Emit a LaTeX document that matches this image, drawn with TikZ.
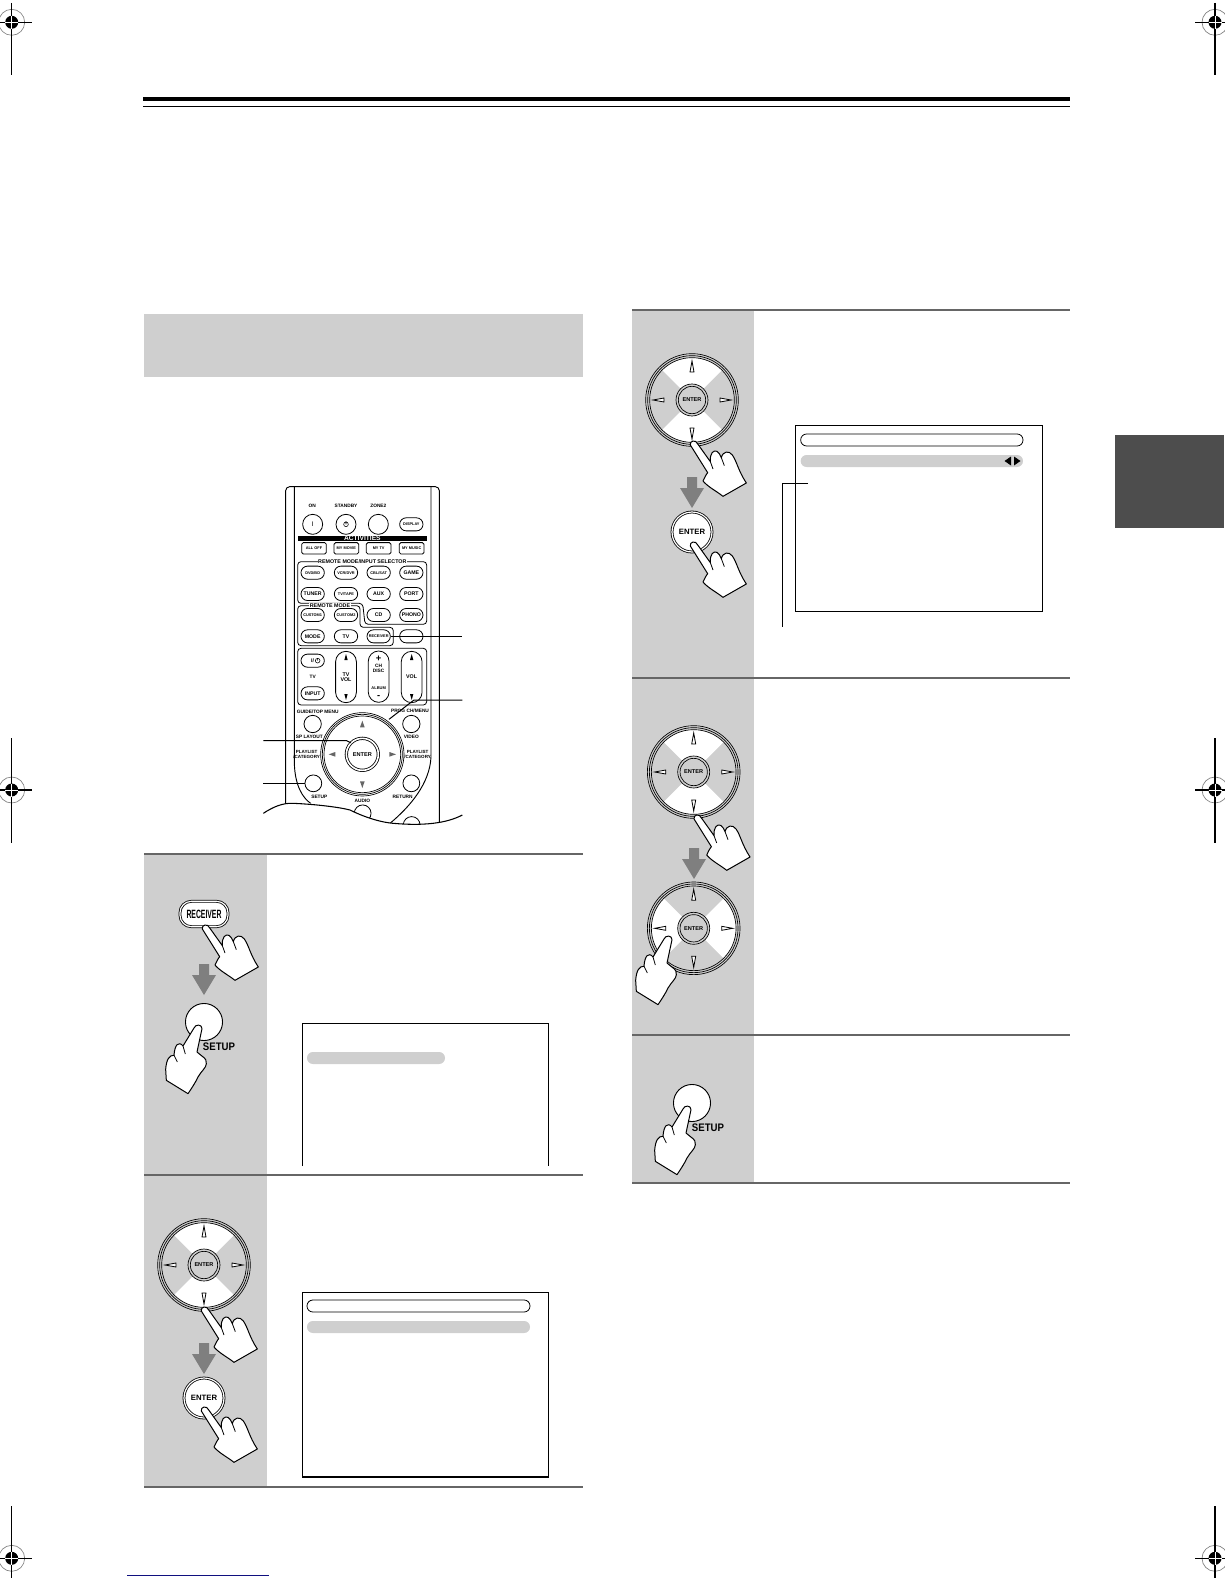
\documentclass[tikz,border=0pt]{standalone}
\usepackage{xcolor}
\usepackage{fontspec}
\setmainfont{Liberation Sans}
\definecolor{panelgray}{HTML}{CFCFCF}
\definecolor{rulegray}{HTML}{666666}
\definecolor{tabgray}{HTML}{4D4D4D}
\definecolor{arrowgray}{HTML}{7F7F7F}
\definecolor{linknavy}{HTML}{10107F}
\newcommand{\CropMark}[4]{%
  \draw[gray,line width=0.5pt] (#1,#2) circle (13);
  \draw[line width=0.9pt] (#1-20,#2) -- (#1+20,#2) (#1,#3) -- (#1,#4);
  \fill (#1,#2) circle (6.5);
  \draw[white,line width=0.7pt] (#1-6.5,#2) -- (#1+6.5,#2) (#1,#2-6.5) -- (#1,#2+6.5);
}
\tikzset{
  pics/hand/.style={code={
    \begin{scope}[xscale=1/3,yscale=-1/3]
    \draw[fill=white,line width=0.75pt,line join=round]
      (-8,12) .. controls (-11,0) and (8,-7) .. (15,10) -- (52,62)
      .. controls (50,36) and (62,26) .. (72,31) .. controls (78,35) and (82,42) .. (85,50)
      .. controls (90,30) and (108,28) .. (118,42) .. controls (132,62) and (135,88) .. (160,126)
      -- (90,166) .. controls (70,150) and (45,138) .. (30,120)
      .. controls (34,110) and (40,100) .. (44,95) -- cycle;
    \draw[line width=0.6pt] (52,62) -- (60,84) (85,50) -- (94,74);
    \end{scope}
  }},
  pics/handleft/.style={code={
    \begin{scope}[xscale=1/3,yscale=-1/3]
    \draw[fill=white,line width=0.75pt,line join=round]
      (12,8) .. controls (12,-6) and (-8,-6) .. (-12,6) -- (-45,60)
      .. controls (-58,44) and (-70,56) .. (-72,88)
      .. controls (-85,86) and (-95,100) .. (-97,130) -- (-95,163)
      -- (-30,203) .. controls (-18,185) and (-8,170) .. (0,153)
      .. controls (10,135) and (25,125) .. (25,113) .. controls (26,103) and (22,98) .. (18,95)
      .. controls (12,90) and (5,85) .. (-3,78) -- cycle;
    \draw[line width=0.6pt] (-45,60) -- (-38,84) (-72,88) -- (-62,108);
    \end{scope}
  }},
  pics/wheel/.style={code={
    \begin{scope}[xscale=1/3,yscale=-1/3]
    \begin{scope}
    \clip (0,0) circle (127);
    \fill[white] (0,0) -- (-130,-130) -- (130,-130) -- cycle;
    \fill[white] (0,0) -- (-130,130) -- (130,130) -- cycle;
    \end{scope}
    \draw[line width=0.5pt] (0,0) circle (127) (0,0) circle (133) (0,0) circle (139);
    \draw[fill=panelgray,line width=0.5pt] (0,0) circle (48);
    \draw[line width=0.5pt] (0,0) circle (41);
    \foreach \a in {0,90,180,270}
      \draw[fill=white,line width=0.6pt,rotate=\a] (0,-117) -- (6,-84) -- (-6,-84) -- cycle;
    \end{scope}
  }},
  pics/downarrow/.style={code={
    \fill[arrowgray,yscale=-1] (-5,0) -- (5,0) -- (5,11) -- (12,11) -- (0,31) -- (-12,11) -- (-5,11) -- cycle;
  }},
  panel/.style={fill=panelgray,draw=none},
  steprule/.style={rulegray,line width=1.6pt},
  screenline/.style={line width=0.7pt},
  leader/.style={line width=0.75pt},
  wheeltext/.style={font=\fontsize{4.2}{4.2}\selectfont\bfseries,inner sep=0},
  remotelabel/.style={font=\fontsize{4}{4.2}\selectfont\bfseries,inner sep=0.4pt,align=center},
  remotepill/.style={draw,fill=white,line width=0.6pt,rounded corners=4.9pt,minimum width=17.5pt,minimum height=9.8pt,inner sep=0},
  pillbig/.style={font=\fontsize{3.9}{3.9}\selectfont\bfseries},
  pillsmall/.style={font=\fontsize{2.9}{2.9}\selectfont\bfseries},
  remotekey/.style={draw,fill=white,line width=0.6pt,rounded corners=1.2pt,minimum width=18.5pt,minimum height=8.6pt,inner sep=0,font=\fontsize{2.9}{2.9}\selectfont\bfseries},
  remoteoval/.style={draw,fill=white,line width=0.6pt,rounded corners=7.8pt,minimum width=15.6pt,minimum height=38.5pt,inner sep=0},
  remotedot/.style={draw,fill=white,line width=0.6pt,circle,inner sep=0},
}

\begin{document}
\begin{tikzpicture}[x=0.75pt,y=0.75pt,yscale=-1,xscale=1]
\useasboundingbox (0,0) rectangle (1224,1584);

%Crop marks
\CropMark{11.7}{22.3}{3}{75}
\CropMark{1215}{22.3}{3}{75}
\CropMark{11.7}{790}{738}{843}
\CropMark{1215}{790}{738}{843}
\CropMark{11.7}{1558.3}{1506}{1578}
\CropMark{1215}{1558.3}{1506}{1578}

%Page head
\draw[line width=2.6pt] (143,99) -- (1070,99);
\draw[line width=0.7pt] (143,106) -- (1070,106);
\draw[linknavy,line width=0.7pt] (127,1575) -- (269,1575);
\fill[tabgray] (1115,435) rectangle (1224,528);

%Gray panels
\fill[panel] (144,314) rectangle (583,377);
\fill[panel] (144,854) rectangle (267,1175);
\fill[panel] (144,1175) rectangle (267,1487);
\fill[panel] (632,310) rectangle (754,678);
\fill[panel] (632,678) rectangle (754,1035);
\fill[panel] (632,1035) rectangle (754,1183);
\draw[steprule] (144,854) -- (583,854);
\draw[steprule] (144,1175) -- (583,1175);
\draw[steprule] (144,1487) -- (583,1487);
\draw[steprule] (632,310) -- (1070,310);
\draw[steprule] (632,678) -- (1070,678);
\draw[steprule] (632,1035) -- (1070,1035);
\draw[steprule] (632,1183) -- (1070,1183);

%Remote control
\begin{scope}[shift={(250,470)},scale=1/3]
\draw[line width=0.7pt,rounded corners=3pt] (107,1100) -- (107,50) -- (568,50) -- (568,1100);
\draw[line width=0.7pt] (133,50) -- (133,880) .. controls (135,950) and (160,985) .. (182,1000);
\draw[line width=0.7pt] (543,50) -- (543,860) .. controls (540,940) and (480,1010) .. (420,1060);

\foreach \px/\py/\ptext in {187/108/ON,288/108/STANDBY,385/108/ZONE2,188/622/TV,203/725/{GUIDE/TOP MENU},178/802/SP LAYOUT,484/802/VIDEO,480/723/{PROG CH/MENU},208/981/SETUP,458/981/RETURN,337/993/AUDIO}
  \node[remotelabel,font=\fontsize{3.6}{3.6}\selectfont\bfseries] (label\px\py) at (\px,\py) {\ptext};
\node[remotelabel,font=\fontsize{3.4}{3.8}\selectfont\bfseries] (playleft) at (170,854) {PLAYLIST\\/CATEGORY};
\node[remotelabel,font=\fontsize{3.4}{3.8}\selectfont\bfseries] (playright) at (503,854) {PLAYLIST\\/CATEGORY};

\node[remotedot,minimum size=15pt] (onbtn) at (188,163) {\fontsize{5}{5}\selectfont I};
\node[remotedot,minimum size=15pt] (standbybtn) at (288,163) {};
\draw[line width=0.4pt] (288,163) circle (7) (288,153) -- (288,163);
\node[remotedot,minimum size=15pt] (zonebtn) at (385,163) {};
\node[remotepill,pillsmall] (displaybtn) at (484,163) {DISPLAY};

\fill (143,197) rectangle (530,212);
\node[text=white,font=\fontsize{5}{5}\selectfont\bfseries,inner sep=0] (activities) at (337,204) {ACTIVITIES};
\foreach \px/\ptext in {192/ALL OFF,289/MY MOVIE,386/MY TV,485/MY MUSIC}
  \node[remotekey] (key\px) at (\px,235) {\ptext};

%Frames
\draw[line width=0.6pt,rounded corners=2.5pt] (143,400) -- (143,275) -- (530,275) -- (530,463) -- (345,463) -- (338,400) -- cycle;
\draw[line width=0.6pt,rounded corners=2.5pt] (143,407) -- (330,407) -- (330,472) -- (430,472) -- (430,527) -- (143,527) -- cycle;
\draw[line width=0.6pt,rounded corners=2.5pt] (143,705) -- (143,535) -- (530,535) -- (530,705) -- cycle;
\node[remotelabel,fill=white] (selector) at (337,275) {REMOTE MODE/INPUT SELECTOR};
\node[remotelabel,fill=white] (remotemode) at (240,407) {REMOTE MODE};

\foreach \px/\py/\ptext/\pfont in {188/308/{DVD/BD}/pillsmall,288/308/{VCR/DVR}/pillsmall,386/308/{CBL/SAT}/pillsmall,484/308/GAME/pillbig,
    188/372/TUNER/pillbig,288/372/{TV/TAPE}/pillsmall,386/372/AUX/pillbig,484/372/PORT/pillbig,
    188/435/CUSTOM1/pillsmall,288/435/CUSTOM2/pillsmall,386/435/CD/pillbig,484/435/PHONO/pillbig,
    188/499/MODE/pillbig,288/499/TV/pillbig,484/499/{}/pillbig,
    188/572/{I/\hspace{4pt}}/pillbig,188/670/INPUT/pillbig}
  \node[remotepill,\pfont] (btn\px\py) at (\px,\py) {\ptext};
\node[remotepill,pillsmall] (receiverbtn) at (386,499) {RECEIVER};
\draw[line width=0.4pt] (203,572) circle (7) (203,564) -- (203,572);

\node[remoteoval] (tvvol) at (288,621) {};
\node[remoteoval] (chdisc) at (386,620) {};
\node[remoteoval] (volbtn) at (485,621) {};
\foreach \px in {288,485} {
  \fill (\px,552) -- (\px+5,570) -- (\px-5,570) -- cycle;
  \fill (\px,690) -- (\px+5,672) -- (\px-5,672) -- cycle;
}
\node[remotelabel] (tvvoltext) at (288,621) {TV\\VOL};
\node[remotelabel] (voltext) at (485,621) {VOL};
\node[remotelabel,font=\fontsize{7}{7}\selectfont\bfseries] (chplus) at (386,565) {+};
\node[remotelabel,font=\fontsize{3.6}{4}\selectfont\bfseries] (chtext) at (386,595) {CH\\DISC};
\node[remotelabel,font=\fontsize{3}{3}\selectfont\bfseries] (albumtext) at (386,655) {ALBUM};
\node[remotelabel,font=\fontsize{7}{7}\selectfont\bfseries] (chminus) at (386,680) {-};

\node[remotedot,minimum size=13pt] (guidebtn) at (188,762) {};
\node[remotedot,minimum size=13pt] (progbtn) at (484,762) {};
\node[remotedot,minimum size=12.6pt] (setupbtn) at (190,940) {};
\node[remotedot,minimum size=12.6pt] (returnbtn) at (484,940) {};
\node[remotedot,minimum size=12.6pt] (audiobtn) at (338,1030) {};
\node[remotedot,minimum size=12.6pt] (lowbtn) at (485,1065) {};

\draw[fill=white,line width=0.5pt] (337,853) circle (125);
\draw[line width=0.5pt] (337,853) circle (120) (337,853) circle (115);
\node[remotedot,minimum size=24pt,double,double distance=1.2pt,font=\fontsize{4.2}{4.2}\selectfont\bfseries] (enterbtn) at (337,853) {ENTER};
\foreach \a in {0,90,180,270}
  \fill[rulegray,rotate around={\a:(337,853)}] (337,752) -- (344,772) -- (330,772) -- cycle;

%Cut edge
\fill[white] (40,1030) .. controls (70,1010) and (100,998) .. (130,1000) .. controls (200,1003) and (270,1012) .. (300,1020) .. controls (350,1045) and (400,1058) .. (430,1060) .. controls (520,1068) and (590,1060) .. (637,1035) -- (637,1110) -- (40,1110) -- cycle;
\draw[line width=0.8pt] (40,1030) .. controls (70,1010) and (100,998) .. (130,1000) .. controls (200,1003) and (270,1012) .. (300,1020) .. controls (350,1045) and (400,1058) .. (430,1060) .. controls (520,1068) and (590,1060) .. (637,1035);

%Leaders
\coordinate (leadreceiver) at (637,499);
\coordinate (leadwheel) at (637,690);
\coordinate (leadwheelbend) at (492,690);
\coordinate (leadwheelend) at (417,748);
\coordinate (leadenter) at (40,812);
\coordinate (leadenterbend) at (290,812);
\coordinate (leadsetup) at (40,940);
\draw[leader] (receiverbtn.east) -- (leadreceiver);
\draw[leader] (leadwheel) -- (leadwheelbend) -- (leadwheelend);
\draw[leader] (leadenter) -- (leadenterbend) -- (enterbtn.north west);
\draw[leader] (leadsetup) -- (setupbtn.west);
\end{scope}

%Step 1
\node[draw,fill=white,line width=0.6pt,double,double distance=0.9pt,rounded corners=8.5pt,minimum width=36pt,minimum height=19pt,inner sep=0] (receiverbig) at (204,914) {\fontsize{9}{9}\selectfont\bfseries\scalebox{.57}[1]{RECEIVER}};
\pic at (205,925) {hand};
\pic at (204,964) {downarrow};
\node[draw,fill=white,circle,line width=0.7pt,minimum size=27.8pt,inner sep=0] (setupone) at (204,1022) {};
\node[inner sep=0,font=\fontsize{8.2}{8.2}\selectfont\bfseries] (setuponetext) at (219,1047) {\scalebox{.88}[1]{SETUP}};
\pic at (198,1026) {handleft};
\draw[screenline] (302,1166) -- (302,1023) -- (548,1023) -- (548,1166);
\fill[panelgray,rounded corners=4.4pt] (307,1052) rectangle (445,1064);

%Step 2
\pic at (204,1265) {wheel};
\node[wheeltext] (wheeltwo) at (204,1265) {ENTER};
\pic at (204,1307) {hand};
\pic at (204,1343) {downarrow};
\node[draw,fill=white,circle,line width=0.6pt,double,double distance=0.9pt,minimum size=30pt,inner sep=0,font=\fontsize{5.8}{5.8}\selectfont\bfseries] (entertwo) at (204,1398) {ENTER};
\pic at (204,1407) {hand};
\draw[screenline] (302,1292) rectangle (548,1477);
\draw[line width=1.1pt] (302,1477) -- (548,1477);
\draw[line width=0.6pt,rounded corners=4.4pt] (307,1300) rectangle (530,1312);
\fill[panelgray,rounded corners=4.4pt] (307,1321) rectangle (530,1333);

%Step 3
\pic at (692,400) {wheel};
\node[wheeltext] (wheelthree) at (692,400) {ENTER};
\pic at (693,441) {hand};
\pic at (692,477) {downarrow};
\node[draw,fill=white,circle,line width=0.6pt,double,double distance=0.9pt,minimum size=30pt,inner sep=0,font=\fontsize{5.8}{5.8}\selectfont\bfseries] (enterthree) at (692,532) {ENTER};
\pic at (693,542) {hand};
\draw[screenline] (795.3,425.7) rectangle (1042.7,611);
\draw[line width=0.6pt,rounded corners=4.4pt] (800.7,434) rectangle (1023,446);
\fill[panelgray,rounded corners=4.4pt] (800.7,455) rectangle (1023,467);
\fill (1004.5,461) -- (1011,456.5) -- (1011,465.5) -- cycle;
\fill (1020.5,461) -- (1014,456.5) -- (1014,465.5) -- cycle;
\coordinate (noteend) at (808,483);
\coordinate (notebend) at (782,483);
\coordinate (notefoot) at (782,627);
\draw[leader] (noteend) -- (notebend) -- (notefoot);

%Step 4
\pic at (693.7,772) {wheel};
\node[wheeltext] (wheelfour) at (693.7,772) {ENTER};
\pic at (696.7,815) {hand};
\pic at (694,848) {downarrow};
\pic[rotate=90] at (693.7,928.3) {wheel};
\node[wheeltext] (wheelfive) at (693.7,928.3) {ENTER};
\pic at (668,937) {handleft};

%Step 5
\node[draw,fill=white,circle,line width=0.7pt,minimum size=27.8pt,inner sep=0] (setupfive) at (692,1103) {};
\node[inner sep=0,font=\fontsize{8.2}{8.2}\selectfont\bfseries] (setupfivetext) at (708,1128) {\scalebox{.88}[1]{SETUP}};
\pic at (687,1107) {handleft};

\end{tikzpicture}
\end{document}
